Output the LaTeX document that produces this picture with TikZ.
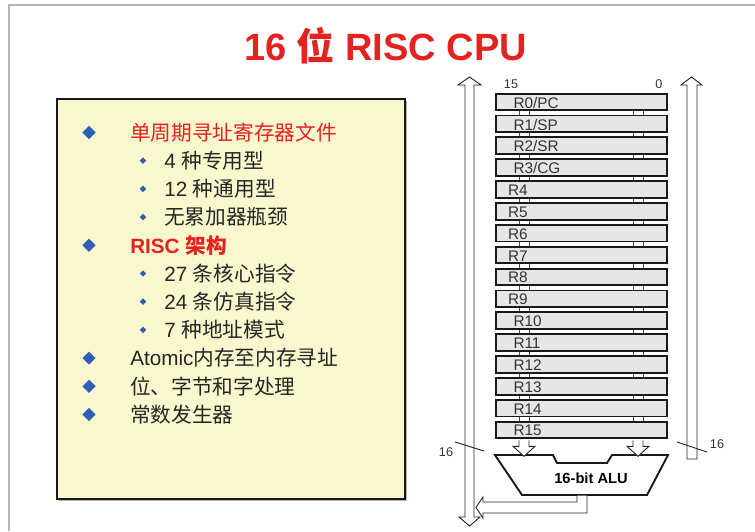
\documentclass[tikz,border=0pt]{standalone}
\usepackage{fontspec}
\setmainfont{Liberation Sans}
\newfontfamily\cjk{Noto Sans CJK SC}
\usetikzlibrary{calc,shapes.geometric}
\definecolor{titlered}{HTML}{E42320}
\definecolor{bulletblue}{HTML}{2D5FB4}
\definecolor{boxyellow}{HTML}{F8F7CD}
\definecolor{regfill}{HTML}{E6E6E6}
\definecolor{framegray}{HTML}{B4B4B4}
\tikzset{
    % list styles
    li big/.style={diamond, fill=bulletblue, inner sep=0pt, minimum size=10pt},
    li small/.style={diamond, fill=bulletblue, inner sep=0pt, minimum size=5pt},
    li text/.style={anchor=west, inner sep=0pt, text=black!85,
                    font=\fontsize{15.5pt}{18pt}\selectfont},
    li head/.style={li text, text=titlered},
    % register file styles
    rf reg/.style={draw=black!90, line width=1.4pt, fill=regfill,
                   minimum width=128pt, minimum height=12.5pt, inner sep=0pt},
    rf lbl/.style={anchor=west, inner sep=0pt, text=black!80,
                   font=\fontsize{11.5pt}{12pt}\selectfont},
    rf stub/.style={draw=black!70, line width=0.6pt},
    rf bus/.style={draw=black!85, fill=white, line width=0.7pt},
    rf num/.style={inner sep=0pt, text=black!80,
                   font=\fontsize{9.5pt}{11pt}\selectfont},
    rf alu/.style={draw=black!90, fill=white, line width=1.4pt},
}
\begin{document}
\begin{tikzpicture}[x=0.75pt, y=-0.75pt]
    \useasboundingbox (0,0) rectangle (755,531);
    % page frame
    \draw[framegray, line width=1.5pt] (9,531) -- (9,5) -- (755,5);
    % title
    \node[inner sep=0pt, text=titlered, font=\fontsize{28.5pt}{32pt}\selectfont\bfseries]
        (title) at (385.5,46) {16 {\cjk 位} RISC CPU};
    % text box
    \fill[black!30] (59,101) rectangle (407,501);
    \draw[black!90, line width=1.4pt, fill=boxyellow] (57,99) rectangle (405,499);
    \def\dy{28.2}
    \def\yy{132.5}
    % items
    \node[li big] (b1) at (89,\yy) {};
    \node[li head] (i1) at (130,\yy) {\cjk 单周期寻址寄存器文件};
    \node[li small] (b2) at (143,\yy+\dy) {};
    \node[li text] (i2) at (164,\yy+\dy) {4 {\cjk 种专用型}};
    \node[li small] (b3) at (143,\yy+2*\dy) {};
    \node[li text] (i3) at (164,\yy+2*\dy) {12 {\cjk 种通用型}};
    \node[li small] (b4) at (143,\yy+3*\dy) {};
    \node[li text] (i4) at (164,\yy+3*\dy) {\cjk 无累加器瓶颈};
    \node[li big] (b5) at (89,\yy+4*\dy) {};
    \node[li head] (i5) at (130,\yy+4*\dy) {\textbf{RISC} {\cjk\bfseries 架构}};
    \node[li small] (b6) at (143,\yy+5*\dy) {};
    \node[li text] (i6) at (164,\yy+5*\dy) {27 {\cjk 条核心指令}};
    \node[li small] (b7) at (143,\yy+6*\dy) {};
    \node[li text] (i7) at (164,\yy+6*\dy) {24 {\cjk 条仿真指令}};
    \node[li small] (b8) at (143,\yy+7*\dy) {};
    \node[li text] (i8) at (164,\yy+7*\dy) {7 {\cjk 种地址模式}};
    \node[li big] (b9) at (89,\yy+8*\dy) {};
    \node[li text] (i9) at (130,\yy+8*\dy) {Atomic{\cjk 内存至内存寻址}};
    \node[li big] (b10) at (89,\yy+9*\dy) {};
    \node[li text] (i10) at (130,\yy+9*\dy) {\cjk 位、字节和字处理};
    \node[li big] (b11) at (89,\yy+10*\dy) {};
    \node[li text] (i11) at (130,\yy+10*\dy) {\cjk 常数发生器};
    % buses
    \draw[rf bus] (469.5,77) -- (481,85) -- (474,85) -- (474,517) -- (480,517)
        -- (469.5,526) -- (459,517) -- (465,517) -- (465,85) -- (458,85) -- cycle;
    \draw[rf bus] (691.5,77) -- (702,85) -- (697,85) -- (697,459) -- (687,459)
        -- (687,85) -- (681,85) -- cycle;
    % registers
    \def\rp{21.87}
    \foreach \t [count=\i from 0] in {R0/PC,R1/SP,R2/SR,R3/CG,R4,R5,R6,R7,
                                      R8,R9,R10,R11,R12,R13,R14,R15}{
        \node[rf reg] (r\i) at (581.5,102+\i*\rp) {};
        \pgfmathsetmacro\lx{and(\i>3,\i<10) ? 9.5 : 13.5}
        \node[rf lbl] at ([xshift=\lx pt, yshift=-0.5pt]r\i.west) {\t};
    }
    % stubs between registers
    \foreach \i [evaluate=\i as \j using int(\i+1)] in {0,...,14}{
        \foreach \x in {519,529,633,643}{
            \draw[rf stub] (r\i.south -| \x,0) -- (r\j.north -| \x,0);
        }
    }
    % bit numbers
    \node[rf num] (b15) at (511,84) {15};
    \node[rf num] (b0) at (659,84) {0};
    % ALU
    \draw[rf alu] (495,455) -- (553,455) -- (557,463) -- (607,463) -- (612,455)
        -- (668,455) -- (647,495) -- (522,495) -- cycle;
    \node[inner sep=0pt, font=\fontsize{11pt}{12pt}\selectfont\bfseries]
        (alu) at (591,478) {16-bit ALU};
    % operand arrows
    \foreach \x in {524,638}{
        \draw[rf bus] ($(r15.south -| \x,0)+(-5,1)$) -- ++(0,6) -- ++(-6,0)
            -- ++(11,10) -- ++(11,-10) -- ++(-6,0) -- ++(0,-6);
    }
    % result arrow
    \draw[rf bus] (577,495.5) -- (577,502) -- (483,502) -- (483,497) -- (476,507.5)
        -- (483,518) -- (483,513) -- (587,513) -- (587,495.5);
    % width marks
    \draw[black!85, line width=0.7pt] (455,442) -- (484,451);
    \node[rf num] (w1) at (446,452) {16};
    \draw[black!85, line width=0.7pt] (677,442) -- (707,452);
    \node[rf num] (w2) at (717,444) {16};
\end{tikzpicture}
\end{document}
